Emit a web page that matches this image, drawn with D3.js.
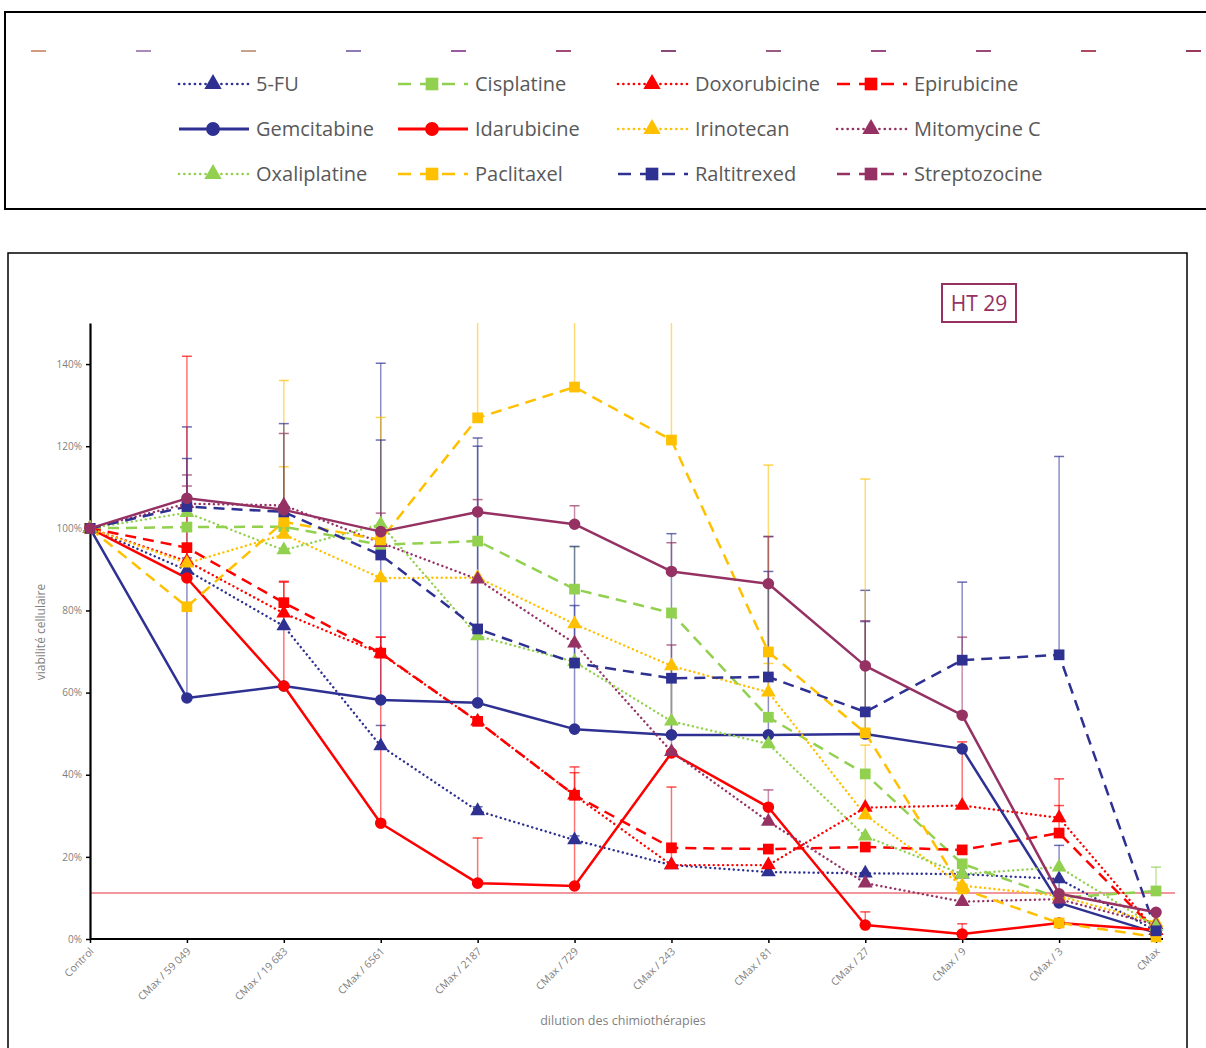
<!DOCTYPE html>
<html>
<head>
<meta charset="utf-8">
<script src="https://cdn.jsdelivr.net/npm/d3@7"></script>
<style>
  html, body { margin: 0; padding: 0; background: #fff; }
  svg { display: block; }
</style>
</head>
<body>
<svg id="chart" width="1206" height="1048"></svg>
<script>
// ---------------- DATA ----------------
const categories = ["Control", "CMax / 59 049", "CMax / 19 683", "CMax / 6561", "CMax / 2187",
  "CMax / 729", "CMax / 243", "CMax / 81", "CMax / 27", "CMax / 9", "CMax / 3", "CMax"];

const yTicks = [0, 20, 40, 60, 80, 100, 120, 140];

const seriesNames = ["5-FU", "Cisplatine", "Doxorubicine", "Epirubicine",
  "Gemcitabine", "Idarubicine", "Irinotecan", "Mitomycine C",
  "Oxaliplatine", "Paclitaxel", "Raltitrexed", "Streptozocine"];

const fu5          = [100, 89.8, 76.2, 47.0, 31.2, 24.1, 18.0, 16.3, 16.0, 15.8, 14.6, 2.0];
const cisplatine   = [100, 100.3, 100.4, 96.0, 96.9, 85.2, 79.4, 54.0, 40.2, 18.3, 10.0, 11.7];
const doxorubicine = [100, 92.0, 79.3, 69.5, 53.0, 35.0, 18.0, 18.0, 32.0, 32.5, 29.5, 2.0];
const epirubicine  = [100, 95.3, 81.9, 69.6, 53.0, 35.0, 22.2, 21.9, 22.4, 21.7, 25.8, 2.0];
const gemcitabine  = [100, 58.7, 61.6, 58.2, 57.5, 51.1, 49.7, 49.7, 49.9, 46.3, 8.8, 1.5];
const idarubicine  = [100, 87.9, 61.6, 28.2, 13.6, 12.9, 45.3, 32.1, 3.4, 1.2, 3.9, 2.2];
const irinotecan   = [100, 91.5, 98.5, 87.9, 88.0, 76.7, 66.5, 60.1, 30.2, 13.0, 10.5, 4.0];
const mitomycine   = [100, 106.0, 105.6, 96.5, 87.6, 72.0, 45.6, 28.6, 13.6, 9.1, 9.7, 3.5];
const oxaliplatine = [100, 103.8, 94.7, 101.0, 73.8, 67.5, 53.0, 47.5, 25.0, 15.8, 17.5, 3.0];
const paclitaxel   = [100, 80.9, 101.6, 97.2, 126.9, 134.4, 121.5, 69.9, 50.2, 12.2, 3.9, 0.5];
const raltitrexed  = [100, 105.3, 104.0, 93.5, 75.5, 67.2, 63.5, 63.8, 55.3, 67.9, 69.2, 2.0];
const streptozocine= [100, 107.3, 104.5, 99.2, 104.0, 101.0, 89.5, 86.5, 66.5, 54.5, 11.0, 6.5];

// upper error bar amounts (plus direction)
const fu5Err          = [0, 3, 0, 5, 1, 1, 0, 0, 0, 0, 0, 0];
const cisplatineErr   = [0, 0, 0, 0, 0, 10.3, 0, 0, 0, 0, 0, 5.8];
const doxorubicineErr = [0, 0, 0, 4, 0, 5.5, 19, 0, 0, 15.5, 9.5, 0];
const epirubicineErr  = [0, 0, 5, 0, 0, 0, 0, 0, 0, 0, 6.7, 0];
const gemcitabineErr  = [0, 66, 0, 82, 62.5, 44.5, 49, 48.3, 35, 0, 14, 0];
const idarubicineErr  = [0, 54, 25.5, 45.3, 11, 29, 0, 0, 3.2, 2.5, 0, 0];
const irinotecanErr   = [0, 0, 16.5, 0, 0, 0, 0, 7, 17, 0, 0, 0];
const mitomycineErr   = [0, 7, 17.5, 0, 0, 0, 26, 7.7, 0, 0, 0, 0];
const oxaliplatineErr = [0, 0, 0, 0, 0, 0, 10, 0, 0, 0, 0, 0];
const paclitaxelErr   = [0, 0, 34.4, 29.8, 40, 30, 45, 45.5, 61.8, 0, 0, 0];
const raltitrexedErr  = [0, 11.7, 21.5, 28, 46.5, 14, 0, 25.7, 22, 19, 48.3, 0];
const streptozocineErr= [0, 3, 0, 4.5, 3, 4.5, 7, 11.5, 11, 19, 0, 0];

const thresholdValue = 11.2;
const cellLine = "HT 29";
const xTitle = "dilution des chimiothérapies";
const yTitle = "viabilité cellulaire";

// ---------------- STYLES ----------------
const NAVY = "#2e3192", RED = "#ff0000", GREEN = "#92d050", GOLD = "#ffc000", MAROON = "#953163";
const styles = {
  "5-FU":          {color: NAVY,   line: "dot",   marker: "triangle"},
  "Cisplatine":    {color: GREEN,  line: "dash",  marker: "square"},
  "Doxorubicine":  {color: RED,    line: "dot",   marker: "triangle"},
  "Epirubicine":   {color: RED,    line: "dash",  marker: "square"},
  "Gemcitabine":   {color: NAVY,   line: "solid", marker: "circle"},
  "Idarubicine":   {color: RED,    line: "solid", marker: "circle"},
  "Irinotecan":    {color: GOLD,   line: "dot",   marker: "triangle"},
  "Mitomycine C":  {color: MAROON, line: "dot",   marker: "triangle"},
  "Oxaliplatine":  {color: GREEN,  line: "dot",   marker: "triangle"},
  "Paclitaxel":    {color: GOLD,   line: "dash",  marker: "square"},
  "Raltitrexed":   {color: NAVY,   line: "dash",  marker: "square"},
  "Streptozocine": {color: MAROON, line: "solid", marker: "circle", legendLine: "dash", legendMarker: "square"}
};

const valuesList = [fu5, cisplatine, doxorubicine, epirubicine, gemcitabine, idarubicine,
  irinotecan, mitomycine, oxaliplatine, paclitaxel, raltitrexed, streptozocine];
const errList = [fu5Err, cisplatineErr, doxorubicineErr, epirubicineErr, gemcitabineErr, idarubicineErr,
  irinotecanErr, mitomycineErr, oxaliplatineErr, paclitaxelErr, raltitrexedErr, streptozocineErr];

const series = seriesNames.map((n, i) => ({name: n, values: valuesList[i], err: errList[i], style: styles[n]}));

// ---------------- DRAW ----------------
const svg = d3.select("#chart");
const FONT = "'Open Sans', 'Noto Sans', sans-serif";
const GREY = "#7f7f7f";

function dashFor(kind) {
  if (kind === "dot") return "0.1,4.6";
  if (kind === "dash") return "11,7";
  return null;
}
function capFor(kind) { return kind === "dot" ? "round" : "butt"; }
function symbolFor(kind) {
  if (kind === "triangle") return d3.symbolTriangle;
  if (kind === "square") return d3.symbolSquare;
  return d3.symbolCircle;
}
const plotSize = {triangle: 95, square: 115, circle: 105};
const legendSize = {triangle: 130, square: 160, circle: 150};

// ---- Legend box ----
svg.append("rect").attr("x", 5).attr("y", 12).attr("width", 1215).attr("height", 197)
  .attr("fill", "#fff").attr("stroke", "#000").attr("stroke-width", 2);

// small cut-off stubs along the top of the legend
const stubColors = ["#d49a80", "#a88bb8", "#c9a08a", "#8f7ab8", "#9a5aa0", "#a04a78",
  "#8a4a78", "#9a5a86", "#9a4a80", "#9a4a7a", "#b04a60", "#9a3a5a"];
stubColors.forEach((c, i) => {
  svg.append("line").attr("x1", 31 + i * 105).attr("x2", 46 + i * 105)
    .attr("y1", 51).attr("y2", 51).attr("stroke", c).attr("stroke-width", 2);
});

const legendCols = [213, 432, 652, 871];
const legendRows = [84, 129, 174];
const legendG = svg.append("g");
series.forEach((s, i) => {
  const cx = legendCols[i % 4], cy = legendRows[Math.floor(i / 4)];
  const lk = s.style.legendLine || s.style.line;
  const mk = s.style.legendMarker || s.style.marker;
  legendG.append("line").attr("x1", cx - 34).attr("x2", cx + 36).attr("y1", cy).attr("y2", cy)
    .attr("stroke", s.style.color).attr("stroke-width", lk === "solid" ? 3 : 2.6)
    .attr("stroke-dasharray", lk === "dot" ? "0.1,5.2" : (lk === "dash" ? "13,9" : null))
    .attr("stroke-linecap", capFor(lk));
  legendG.append("path").attr("d", d3.symbol().type(symbolFor(mk)).size(legendSize[mk])())
    .attr("transform", `translate(${cx},${cy})`).attr("fill", s.style.color);
  legendG.append("text").attr("x", cx + 43).attr("y", cy).attr("dy", "0.36em")
    .attr("font-family", FONT).attr("font-size", 20).attr("fill", "#595959").text(s.name);
});

// ---- Chart frame ----
svg.append("rect").attr("x", 8).attr("y", 253).attr("width", 1179).attr("height", 820)
  .attr("fill", "#fff").attr("stroke", "#000").attr("stroke-width", 1.5);

// ---- Scales ----
const x = d3.scalePoint().domain(categories).range([90, 1156]);
const y = d3.scaleLinear().domain([0, 150]).range([939, 323]);

// threshold line
svg.append("line").attr("x1", x(categories[0])).attr("x2", 1175)
  .attr("y1", y(thresholdValue)).attr("y2", y(thresholdValue))
  .attr("stroke", "#e0303a").attr("stroke-width", 1.2);

// ---- Error bars ----
const errG = svg.append("g");
series.forEach(s => {
  s.values.forEach((v, i) => {
    const e = s.err[i];
    if (!e) return;
    const top = Math.min(v + e, 150);
    const px = x(categories[i]);
    errG.append("line").attr("x1", px).attr("x2", px).attr("y1", y(v)).attr("y2", y(top))
      .attr("stroke", s.style.color).attr("stroke-opacity", 0.55).attr("stroke-width", 1.5);
    if (v + e <= 150) {
      errG.append("line").attr("x1", px - 5).attr("x2", px + 5).attr("y1", y(top)).attr("y2", y(top))
        .attr("stroke", s.style.color).attr("stroke-opacity", 0.7).attr("stroke-width", 1.5);
    }
  });
});

// ---- Axes ----
const yAxis = d3.axisLeft(y).tickValues(yTicks).tickFormat(d => d + "%").tickSize(4).tickSizeOuter(0);
const yG = svg.append("g").attr("transform", `translate(${x(categories[0])},0)`).call(yAxis);
yG.select(".domain").attr("stroke", "#000").attr("stroke-width", 2.2);
yG.selectAll(".tick line").attr("stroke", "#000").attr("stroke-width", 1.5);
yG.selectAll(".tick text").attr("font-family", FONT).attr("font-size", 10).attr("fill", GREY).attr("x", -8);

const xAxis = d3.axisBottom(x).tickSize(4).tickSizeOuter(0);
const xG = svg.append("g").attr("transform", `translate(0,${y(0)})`).call(xAxis);
xG.select(".domain").attr("d", `M${x.range()[0]},0H${x.range()[1] + 7}`)
  .attr("stroke", "#000").attr("stroke-width", 2.2);
xG.selectAll(".tick line").attr("stroke", "#000").attr("stroke-width", 1.5);
xG.selectAll(".tick text").attr("font-family", FONT).attr("font-size", 10.5).attr("fill", GREY)
  .attr("text-anchor", "end").attr("y", 0).attr("dy", 0)
  .attr("transform", "translate(4,13) rotate(-45)");

// axis titles
svg.append("text").attr("transform", "translate(45,632) rotate(-90)").attr("text-anchor", "middle")
  .attr("font-family", FONT).attr("font-size", 12).attr("fill", GREY).text(yTitle);
svg.append("text").attr("x", 623).attr("y", 1025).attr("text-anchor", "middle")
  .attr("font-family", FONT).attr("font-size", 12.5).attr("fill", GREY).text(xTitle);

// ---- Lines ----
const lineGen = d3.line().x((d, i) => x(categories[i])).y(d => y(d));
const linesG = svg.append("g");
series.forEach(s => {
  linesG.append("path").datum(s.values).attr("d", lineGen)
    .attr("fill", "none").attr("stroke", s.style.color)
    .attr("stroke-width", s.style.line === "dot" ? 2.4 : 2.5)
    .attr("stroke-dasharray", dashFor(s.style.line))
    .attr("stroke-linecap", capFor(s.style.line))
    .attr("stroke-linejoin", "round");
});
// ---- Markers ----
const markG = svg.append("g");
series.forEach(s => {
  markG.selectAll(null).data(s.values).join("path")
    .attr("d", d3.symbol().type(symbolFor(s.style.marker)).size(plotSize[s.style.marker])())
    .attr("transform", (d, i) => `translate(${x(categories[i])},${y(d)})`)
    .attr("fill", s.style.color);
});

// ---- HT 29 label ----
svg.append("rect").attr("x", 942).attr("y", 284).attr("width", 74).attr("height", 38)
  .attr("fill", "#fff").attr("stroke", MAROON).attr("stroke-width", 2);
svg.append("text").attr("x", 979).attr("y", 303).attr("dy", "0.36em").attr("text-anchor", "middle")
  .attr("font-family", FONT).attr("font-size", 21).attr("fill", MAROON).text(cellLine);
</script>
</body>
</html>
